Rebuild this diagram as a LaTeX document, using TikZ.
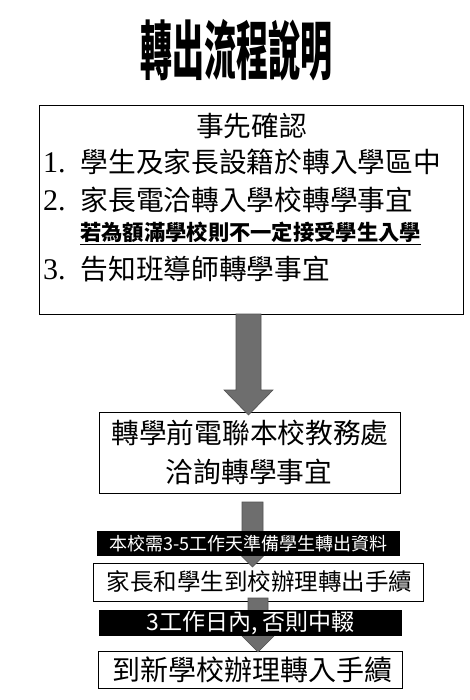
\documentclass[tikz,border=0pt]{standalone}
\usepackage{fontspec}
\setmainfont{Liberation Serif}
\newfontfamily\cjk{Noto Sans CJK TC}
\usetikzlibrary{calc}

\definecolor{arrowgray}{RGB}{110,110,110}

% block arrow: start, tip, shaft half width, head half width, head length
\newcommand{\blockarrow}[5]{%
  \filldraw[arrowstyle] let \p1=(#1), \p2=(#2) in
    (\x1-#3,\y1) -- (\x1-#3,\y2+#5) -- (\x1-#4,\y2+#5) -- (\x1,\y2)
    -- (\x1+#4,\y2+#5) -- (\x1+#3,\y2+#5) -- (\x1+#3,\y1) -- cycle;}

\begin{document}
\begin{tikzpicture}[
  x=1pt,
  y=-1pt,
  box/.style={
    draw,
    fill=white,
    line width=0.8pt,
    inner sep=0pt,
    outer sep=0pt
  },
  txt/.style={inner sep=0pt, font=\cjk\fontsize{27.7}{32}\selectfont},
  band/.style={fill=black, text=white, inner sep=0pt, outer sep=0pt},
  arrowstyle/.style={fill=arrowgray, draw=arrowgray!75!black, line width=0.6pt}
]
\useasboundingbox[fill=white] (0,0) rectangle (469,700);

\node[inner sep=0pt, xscale=0.5, transform shape,
  font=\cjk\bfseries\fontsize{64}{64}\selectfont] (title) at (236,50) {轉出流程說明};

% boxes
\node[box, minimum width=424pt, minimum height=209pt] (check) at (251,209.5) {};
\node[box, minimum width=301pt, minimum height=81pt] (call) at (249.5,452.5) {};
\node[box, minimum width=330pt, minimum height=38pt] (out) at (258,582) {};
\node[box, minimum width=304pt, minimum height=37pt] (in) at (250,669.5) {};

% text of the first box
\node[txt] (head) at (251.5,126) {事先確認};
\node[txt, anchor=west] (step1) at (43,162) {{\rmfamily\fontsize{30}{32}\selectfont 1.}\hspace{15pt}學生及家長設籍於轉入學區中};
\node[txt, anchor=west] (step2) at (43,200) {{\rmfamily\fontsize{30}{32}\selectfont 2.}\hspace{15pt}家長電洽轉入學校轉學事宜};
\node[txt, anchor=west, font=\cjk\bfseries\fontsize{21.3}{24}\selectfont] (note) at (80,233)
  {\underline{若為額滿學校則不一定接受學生入學}};
\node[txt, anchor=west] (step3) at (43,269) {{\rmfamily\fontsize{30}{32}\selectfont 3.}\hspace{15pt}告知班導師轉學事宜};

\node[txt] (call1) at (250,433) {轉學前電聯本校教務處};
\node[txt] (call2) at (249,472) {洽詢轉學事宜};
\node[txt, font=\cjk\fontsize{23.5}{28}\selectfont] (outtxt) at (259.5,582) {家長和學生到校辦理轉出手續};
\node[txt, font=\cjk\fontsize{28}{32}\selectfont] (intxt) at (252,670) {到新學校辦理轉入手續};

% arrows
\coordinate (a1s) at (248.5,0 |- check.south);
\coordinate (a1e) at ($(248.5,0 |- call.north)+(0,3)$);
\coordinate (a2s) at ($(252.5,0 |- call.south)+(0,9)$);
\coordinate (a2e) at ($(252.5,0 |- out.north)+(0,4)$);
\coordinate (a3s) at ($(258,0 |- out.south)+(0,-3)$);
\coordinate (a3e) at ($(258,0 |- in.north)+(0,1)$);
\blockarrow{a1s}{a1e}{12.5pt}{24.5pt}{25pt}
\blockarrow{a2s}{a2e}{10.5pt}{20pt}{20pt}
\blockarrow{a3s}{a3e}{10pt}{22pt}{22pt}

% black bands
\node[band, minimum width=303pt, minimum height=25pt,
  font=\cjk\fontsize{18}{20}\selectfont] (days1) at (248.5,543.5) {本校需3-5工作天準備學生轉出資料};
\node[band, minimum width=303pt, minimum height=26pt,
  font=\cjk\fontsize{23}{24}\selectfont] (days2) at (250.5,623) {3工作日內, 否則中輟};
\end{tikzpicture}
\end{document}
